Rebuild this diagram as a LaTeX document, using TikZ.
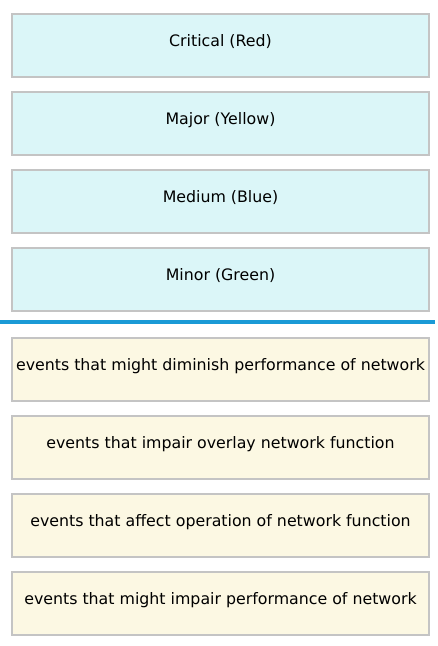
\documentclass[tikz,border=0pt]{standalone}
\usepackage{fontspec}
\setmainfont{DejaVu Sans}
\usepackage{tikz}
\usetikzlibrary{positioning}

\definecolor{sevfill}{HTML}{DBF6F8}
\definecolor{descfill}{HTML}{FCF8E3}
\definecolor{boxline}{HTML}{C4C4C4}
\definecolor{sepblue}{HTML}{1A9AD6}

\begin{document}
\begin{tikzpicture}[x=1pt, y=1pt,
  level/.style={draw=boxline, line width=2pt, fill=#1, minimum width=417pt, minimum height=63pt,
                inner sep=0pt, text height=11.5pt, text depth=8.5pt,
                font=\fontsize{15.8}{18}\selectfont},
  sep/.style={sepblue, line width=4pt},
]
  \useasboundingbox (0,0) rectangle (437,-646);

  \node[level=sevfill] (s1) at (220.5,-45) {Critical (Red)};
  \node[level=sevfill, below=13pt of s1] (s2) {Major (Yellow)};
  \node[level=sevfill, below=13pt of s2] (s3) {Medium (Blue)};
  \node[level=sevfill, below=13pt of s3] (s4) {Minor (Green)};

  \node[level=descfill, below=25pt of s4] (d1) {events that might diminish performance of network};
  \node[level=descfill, below=13pt of d1] (d2) {events that impair overlay network function};
  \node[level=descfill, below=13pt of d2] (d3) {events that affect operation of network function};
  \node[level=descfill, below=13pt of d3] (d4) {events that might impair performance of network};

  \coordinate (sepL) at (0,-322);
  \coordinate (sepR) at (435,-322);
  \draw[sep] (sepL) -- (sepR);
\end{tikzpicture}
\end{document}
